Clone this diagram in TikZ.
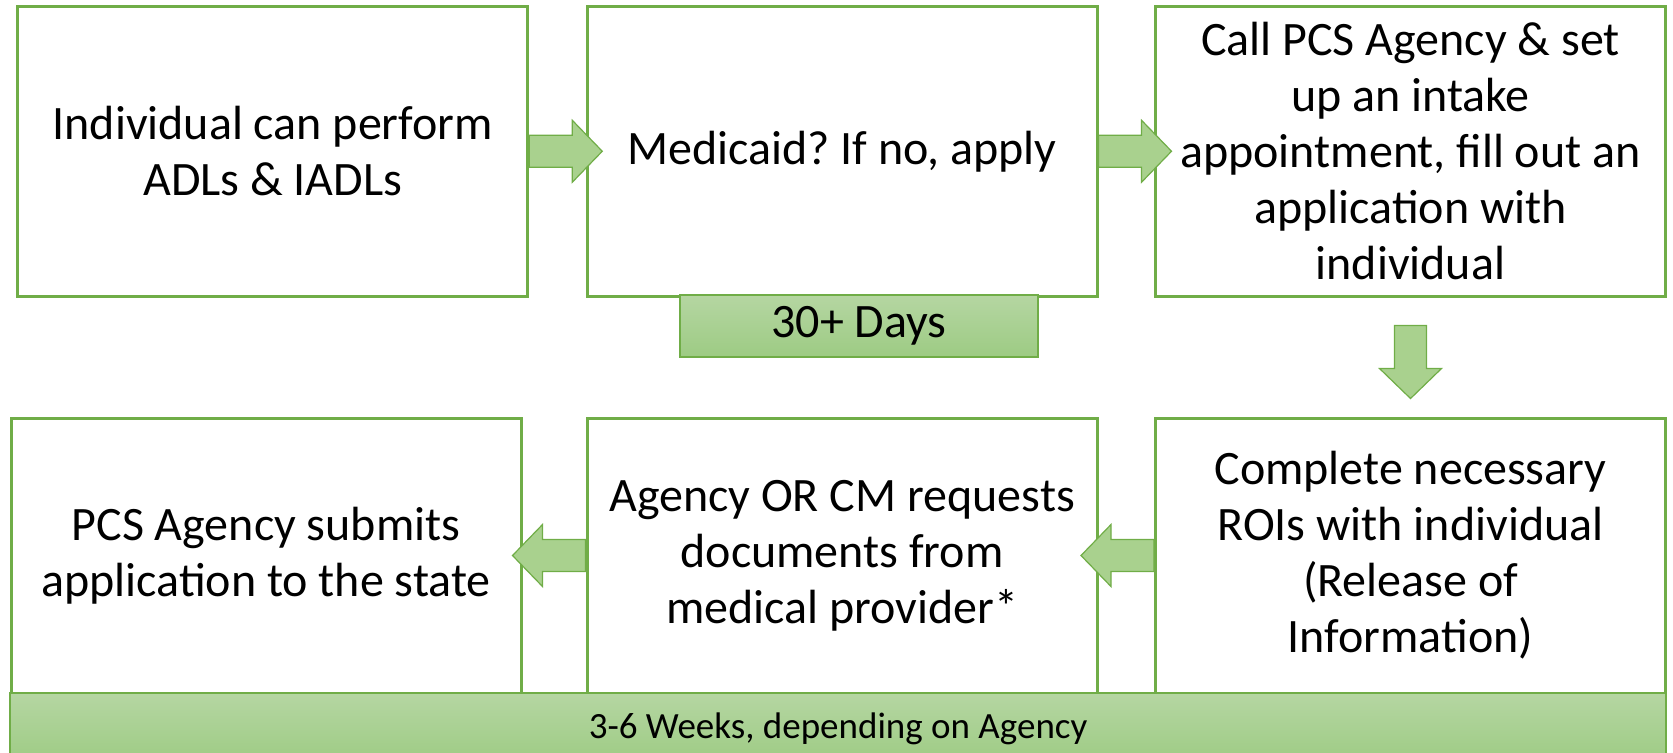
\documentclass[tikz,border=0pt]{standalone}
\usepackage{fontspec}
\setmainfont{Carlito}
\usepackage{tikz}
\usetikzlibrary{arrows.meta}
\frenchspacing

\definecolor{boxgreen}{HTML}{70AD47}
\definecolor{bartop}{HTML}{B5D6A2}
\definecolor{barbot}{HTML}{9DCB83}
\definecolor{arrowfill}{HTML}{A9D18E}

\tikzset{
  stepbox/.style={draw=boxgreen, line width=1.5pt, fill=white, align=center,
    minimum width=255pt, font=\fontsize{24}{28}\selectfont},
  timebar/.style={draw=boxgreen, line width=1pt, top color=bartop, bottom color=barbot,
    inner sep=0pt},
  pics/fatarrow/.style={code={
    \draw[draw=boxgreen, line width=0.6pt, fill=arrowfill]
      (0,-16) -- (43,-16) -- (43,-31) -- (73,0) -- (43,31) -- (43,16) -- (0,16) -- cycle;
  }}
}

\begin{document}
\begin{tikzpicture}[x=0.5pt,y=-0.5pt] % pixel units, y downwards
        \useasboundingbox (0,0) rectangle (1673,752);
        % top row
        \node[stepbox, minimum height=144.75pt] (adl) at (272.75,151.25) {Individual can perform\\ADLs \& IADLs};
        \node[stepbox, minimum height=144.75pt] (med) at (842,151.25) {Medicaid? If no, apply};
        \node[stepbox, minimum height=144.75pt] (call) at (1410.5,151.25) {Call PCS Agency \& set\\up an intake\\appointment, fill out an\\application with\\individual};
        % bottom row
        \node[stepbox, minimum height=137.5pt] (sub) at (266,555.5) {PCS Agency submits\\application to the state};
        \node[stepbox, minimum height=137.5pt] (agy) at (842,555.5) {Agency OR CM requests\\documents from\\medical provider*};
        \node[stepbox, minimum height=137.5pt] (roi) at (1410.5,555.5) {Complete necessary\\ROIs with individual\\(Release of\\Information)};
        % time bars
        \node[timebar, minimum width=179pt, minimum height=31pt, font=\fontsize{24}{28}\selectfont] (days) at (859,326) {30+ Days};
        \node[timebar, minimum width=828pt, minimum height=36pt, font=\fontsize{18.5}{22}\selectfont] (weeks) at (838,729) {3-6 Weeks, depending on Agency};
        % arrows
        \pic at (adl.east) {fatarrow};
        \pic at (med.east) {fatarrow};
        \pic[rotate=-90] at ([yshift=-14pt]call.south) {fatarrow};
        \pic[rotate=180] at (roi.west) {fatarrow};
        \pic[rotate=180] at (agy.west) {fatarrow};
\end{tikzpicture}
\end{document}
